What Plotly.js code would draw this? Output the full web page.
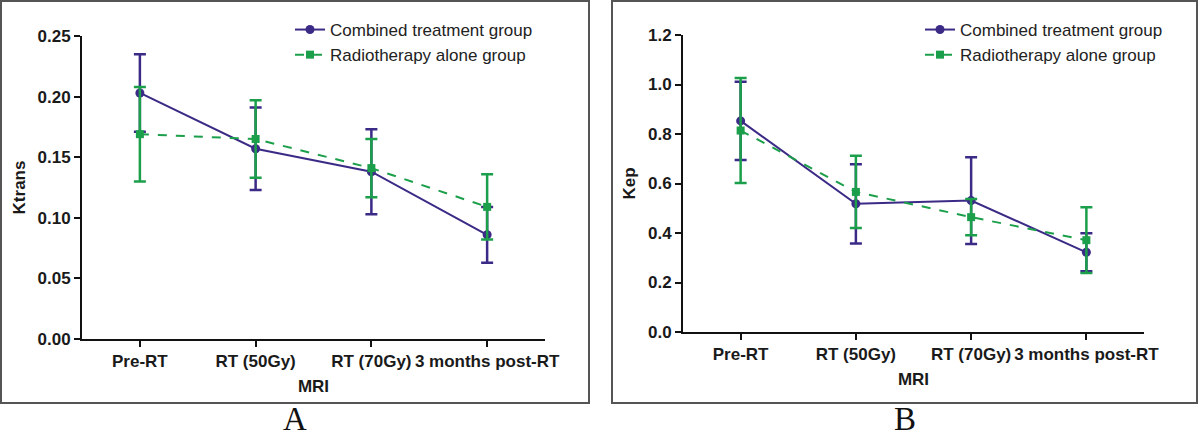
<!DOCTYPE html>
<html>
<head>
<meta charset="utf-8">
<script src="https://cdn.plot.ly/plotly-3.0.1.min.js"></script>
<style>html,body{margin:0;padding:0;background:#fff;}#chart{width:1200px;height:440px;}</style>
</head>
<body>
<div id="chart"></div>
<script>
// ---- data ----
const categories = ["Pre-RT", "RT (50Gy)", "RT (70Gy)", "3 months post-RT"];
const seriesNames = ["Combined treatment group", "Radiotherapy alone group"];

const ktransCombined = [0.203, 0.157, 0.138, 0.086];
const ktransCombinedErr = [0.032, 0.034, 0.035, 0.023];
const ktransRT = [0.169, 0.165, 0.141, 0.109];
const ktransRTErr = [0.039, 0.032, 0.024, 0.027];

const kepCombined = [0.853, 0.518, 0.531, 0.322];
const kepCombinedErr = [0.158, 0.160, 0.175, 0.077];
const kepRT = [0.814, 0.566, 0.464, 0.371];
const kepRTErr = [0.212, 0.146, 0.073, 0.133];

const yTicksA = [0, 0.05, 0.10, 0.15, 0.20, 0.25];
const yTickTextA = ["0.00", "0.05", "0.10", "0.15", "0.20", "0.25"];
const yTicksB = [0, 0.2, 0.4, 0.6, 0.8, 1.0, 1.2];
const yTickTextB = ["0.0", "0.2", "0.4", "0.6", "0.8", "1.0", "1.2"];
const panelLabels = ["A", "B"];
const yTitles = ["Ktrans", "Kep"];
const xTitle = "MRI";

// ---- style ----
const PURPLE = "#3b2a86";
const GREEN = "#1c9f4b";
const W = 1200, H = 440;
const px = v => v / W;
const py = v => 1 - v / H;

function trace(y, err, name, color, dash, symbol, size, xa, ya, legend) {
  return {
    type: "scatter", mode: "lines+markers",
    x: categories, y: y, name: name,
    xaxis: xa, yaxis: ya, legend: legend, showlegend: true,
    line: {color: color, width: 2, dash: dash},
    marker: {color: color, symbol: symbol, size: size},
    error_y: {type: "data", array: err, visible: true, color: color, thickness: 2.5, width: 6}
  };
}

const data = [
  trace(ktransCombined, ktransCombinedErr, seriesNames[0], PURPLE, "solid", "circle", 9, "x", "y", "legend"),
  trace(ktransRT, ktransRTErr, seriesNames[1], GREEN, "dash", "square", 8, "x", "y", "legend"),
  trace(kepCombined, kepCombinedErr, seriesNames[0], PURPLE, "solid", "circle", 9, "x2", "y2", "legend2"),
  trace(kepRT, kepRTErr, seriesNames[1], GREEN, "dash", "square", 8, "x2", "y2", "legend2")
];

const tickFont = {family: "Liberation Sans, Arial, sans-serif", size: 17, color: "#1a1a1a", weight: "bold"};
const titleFont = {family: "Liberation Sans, Arial, sans-serif", size: 17, color: "#1a1a1a", weight: "bold"};

function xaxis(domain, anchor) {
  return {
    domain: domain, anchor: anchor, type: "category", range: [-0.5, 3.5],
    showline: true, linecolor: "#111", linewidth: 2, mirror: false,
    ticks: "outside", ticklen: 6, tickwidth: 2, tickcolor: "#111",
    showgrid: false, zeroline: false, tickfont: tickFont,
    title: {text: xTitle, font: titleFont, standoff: 10}
  };
}
function yaxis(domain, anchor, range, vals, text, title) {
  return {
    domain: domain, anchor: anchor, range: range,
    tickvals: vals, ticktext: text,
    showline: true, linecolor: "#111", linewidth: 2, mirror: false,
    ticks: "outside", ticklen: 6, tickwidth: 2, tickcolor: "#111",
    showgrid: false, zeroline: false, tickfont: tickFont,
    title: {text: title, font: titleFont, standoff: 8}
  };
}

const legendFont = {family: "Liberation Sans, Arial, sans-serif", size: 17, color: "#222"};

const layout = {
  width: W, height: H,
  margin: {l: 0, r: 0, t: 0, b: 0},
  paper_bgcolor: "#fff", plot_bgcolor: "#fff",
  showlegend: true,
  xaxis: xaxis([px(82), px(545)], "y"),
  yaxis: yaxis([py(339), py(36)], "x", [0, 0.25], yTicksA, yTickTextA, yTitles[0]),
  xaxis2: xaxis([px(683), px(1144)], "y2"),
  yaxis2: yaxis([py(332), py(35)], "x2", [0, 1.2], yTicksB, yTickTextB, yTitles[1]),
  legend: {x: px(290), y: py(12), xanchor: "left", yanchor: "top", font: legendFont,
           bgcolor: "rgba(0,0,0,0)", itemwidth: 30, tracegroupgap: 0},
  legend2: {x: px(920), y: py(12), xanchor: "left", yanchor: "top", font: legendFont,
            bgcolor: "rgba(0,0,0,0)", itemwidth: 30, tracegroupgap: 0},
  shapes: [
    {type: "rect", xref: "paper", yref: "paper", x0: px(1), x1: px(589), y0: py(403), y1: py(1),
     line: {color: "#555", width: 2}},
    {type: "rect", xref: "paper", yref: "paper", x0: px(612), x1: px(1197), y0: py(403), y1: py(1),
     line: {color: "#555", width: 2}}
  ],
  annotations: [
    {text: panelLabels[0], xref: "paper", yref: "paper", x: px(295), y: py(439), showarrow: false,
     xanchor: "center", yanchor: "bottom", font: {family: "Liberation Serif, Times New Roman, serif", size: 33, color: "#111"}},
    {text: panelLabels[1], xref: "paper", yref: "paper", x: px(905), y: py(439), showarrow: false,
     xanchor: "center", yanchor: "bottom", font: {family: "Liberation Serif, Times New Roman, serif", size: 33, color: "#111"}}
  ]
};

Plotly.newPlot("chart", data, layout, {staticPlot: true, displayModeBar: false});
</script>
</body>
</html>
